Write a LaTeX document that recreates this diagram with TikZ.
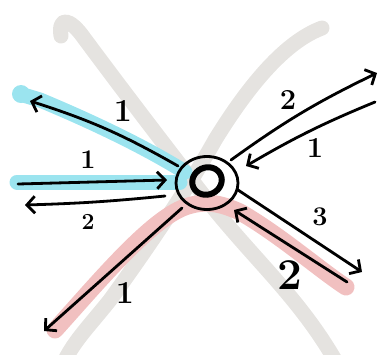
\documentclass[tikz,border=0pt]{standalone}
\usetikzlibrary{arrows.meta,shapes.geometric}
\definecolor{xgray}{RGB}{229,227,224}
\definecolor{hblue}{RGB}{155,228,239}
\definecolor{hpink}{RGB}{241,192,192}
\begin{document}
\begin{tikzpicture}[x=1pt,y=-1pt,
  bg/.style={xgray,line width=15pt,line cap=round,line join=round},
  hlb/.style={hblue,line width=15pt,line cap=round,line join=round},
  hlp/.style={hpink,line width=17pt,line cap=round,line join=round},
  ink/.style={black,line width=2.8pt,line cap=round,line join=round},
  arr/.style={ink,-{Straight Barb[length=8pt,width=17pt,line width=2.8pt]}},
  lbl/.style={inner sep=0pt,text=black}]
\useasboundingbox (0,0) rectangle (379,354);
% grey X
\draw[bg] (61,36) .. controls (58,16) and (70,18) .. (84,38)
  .. controls (130,100) and (180,165) .. (215,210)
  .. controls (260,265) and (300,300) .. (335,360);
\draw[bg] (322,28) .. controls (290,40) and (255,75) .. (215,140)
  .. controls (190,185) and (150,245) .. (110,300)
  .. controls (90,325) and (75,340) .. (65,360);
% highlights
\fill[hblue] (21,94) circle[radius=9pt];
\draw[hlb] (20,94) -- (40,100) .. controls (100,125) and (150,150) .. (185,172);
\draw[hlb] (17,182) -- (180,182);
\draw[hlp] (55,330) .. controls (100,280) and (150,220) .. (185,207)
  .. controls (205,200) and (220,203) .. (240,212)
  .. controls (280,235) and (320,270) .. (346,287);
% hub
\node[draw,ellipse,line width=2.8pt,minimum width=62pt,minimum height=53pt,inner sep=0pt] (hub) at (207,183) {};
\node[draw,ellipse,line width=6pt,minimum width=30pt,minimum height=27pt,inner sep=0pt,rotate=25] (core) at (207,181) {};
% endpoints
\coordinate (a1s) at (178,166); \coordinate (a1e) at (30,101);
\coordinate (a2s) at (18,184);  \coordinate (a2e) at (167,180);
\coordinate (a3s) at (165,196); \coordinate (a3e) at (25,205);
\coordinate (a4s) at (231,160); \coordinate (a4e) at (377,73);
\coordinate (a5s) at (375,102); \coordinate (a5e) at (246,166);
\coordinate (a6s) at (238,190); \coordinate (a6e) at (362,272);
\coordinate (a7s) at (347,282); \coordinate (a7e) at (234,210);
\coordinate (a8s) at (182,208); \coordinate (a8e) at (44,331);
% connectors
\draw[arr] (a1s) to[bend right=6] (a1e);
\draw[arr] (a2s) -- (a2e);
\draw[arr] (a3s) to[bend left=2] (a3e);
\draw[arr] (a4s) to[bend left=5] (a4e);
\draw[arr] (a5s) to[bend right=4] (a5e);
\draw[arr] (a6s) -- (a6e);
\draw[arr] (a7s) -- (a7e);
\draw[arr] (a8s) -- (a8e);
% labels
\node[lbl,font=\bfseries\fontsize{32}{32}\selectfont] (l1) at (123,111) {1};
\node[lbl,font=\bfseries\fontsize{27}{27}\selectfont] (l2) at (88,160) {1};
\node[lbl,font=\bfseries\fontsize{23}{23}\selectfont] (l3) at (88,222) {2};
\node[lbl,font=\bfseries\fontsize{29}{29}\selectfont] (l4) at (288,100) {2};
\node[lbl,font=\bfseries\fontsize{29}{29}\selectfont] (l5) at (315,148) {1};
\node[lbl,font=\bfseries\fontsize{27}{27}\selectfont] (l6) at (320,217) {3};
\node[lbl,font=\bfseries\fontsize{44}{44}\selectfont] (l7) at (290,275) {2};
\node[lbl,font=\bfseries\fontsize{32}{32}\selectfont] (l8) at (125,293) {1};
\end{tikzpicture}
\end{document}
